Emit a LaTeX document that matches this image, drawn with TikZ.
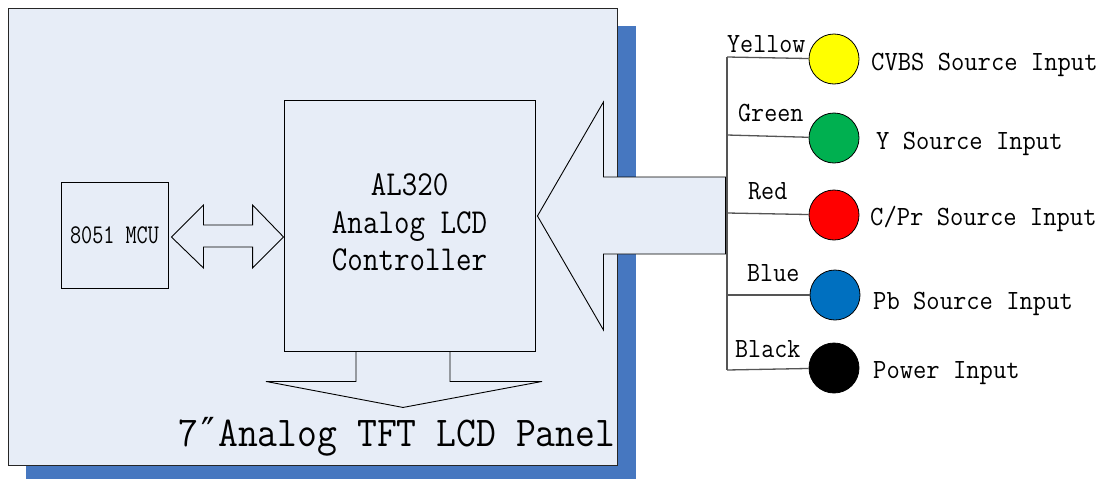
\documentclass[tikz,border=0pt]{standalone}
\usepackage{graphicx}
\usepackage{fontspec}
\newfontfamily\symfont{DejaVu Sans}
\usetikzlibrary{calc}
\definecolor{panelfill}{HTML}{E7EDF7}
\definecolor{shadowblue}{HTML}{4677C0}
\definecolor{wiregray}{HTML}{555555}
\definecolor{cyellow}{HTML}{FFFF00}
\definecolor{cgreen}{HTML}{00B050}
\definecolor{cred}{HTML}{FF0000}
\definecolor{cblue}{HTML}{0070C0}
\newcommand{\hsq}[2]{\scalebox{#1}[1]{#2}}
\tikzset{
  blk/.style={draw=black, line width=0.9pt, fill=panelfill},
  fat/.style={draw=black, line width=0.9pt, fill=panelfill, line join=miter},
  port/.style={circle, draw=black, line width=0.8pt, minimum size=50pt, inner sep=0pt},
  wire/.style={draw=wiregray, line width=1.3pt},
  lbl/.style={inner sep=0pt, anchor=base west, font=\fontsize{27.8}{30}\selectfont\ttfamily},
}
\begin{document}
\begin{tikzpicture}[x=1pt,y=-1pt]
\useasboundingbox (0,0) rectangle (1102,479);
\fill[white] (0,0) rectangle (1102,479);
% shadow and panel
\fill[shadowblue] (26,26) rectangle (636,479);
\node[blk, draw=black!85, minimum width=609pt, minimum height=457pt, anchor=north west, inner sep=0pt] (panel) at (8,8) {};
% MCU
\node[blk, minimum width=107pt, minimum height=106pt, inner sep=0pt, font=\fontsize{27}{29}\selectfont\ttfamily] (mcu) at (114.5,235) {\hsq{0.8}{8051 MCU}};
% AL320
\node[blk, minimum width=251pt, minimum height=251pt, inner sep=0pt, font=\fontsize{35}{37.5}\selectfont\ttfamily] (al) at (409.5,225.5)
  {\hsq{0.86}{\begin{tabular}{@{}c@{}}AL320\\Analog LCD\\Controller\end{tabular}}};
% double arrow between MCU and AL320
\coordinate (dal) at ($(mcu.east)+(3,2)$);
\coordinate (dar) at (al.west |- dal);
\draw[fat] (dal) -- ++(32,-32) -- ++(0,20) -- ($(dar)+(-31,-12)$) -- ++(0,-20) -- (dar)
  -- ++(-31,31) -- ++(0,-21) -- ($(dal)+(32,10)$) -- ++(0,21) -- cycle;
% arrow down to the panel
\filldraw[fat] ($(al.south)+(-53.5,0.6)$) -- ++(0,29.4) -- ++(-90,0) -- ++(137,26) -- ++(139,-26) -- ++(-92,0) -- ++(0,-29.4);
\node[inner sep=0pt, anchor=base west, font=\fontsize{42.5}{45}\selectfont\ttfamily] (pl) at (178,446)
  {\hsq{0.907}{7\makebox[0.525em]{\symfont\fontsize{40}{40}\selectfont ″}Analog TFT LCD Panel}};
% big input arrow
\coordinate (tip) at ($(al.east)+(2,-9.5)$);
\draw[fat] (tip) -- ++(66,-114) -- ++(0,75) -- ++(122,0) -- ++(0,77) -- ++(-122,0) -- ++(0,76) -- cycle;
% bus and ports
\coordinate (b1) at (727,57);
\coordinate (b2) at (727,135);
\coordinate (b3) at (727,213);
\coordinate (b4) at (727,295);
\coordinate (b5) at (727,370);
\node[port, fill=cyellow] (py) at (834,59) {};
\node[port, fill=cgreen] (pg) at (834,138) {};
\node[port, fill=cred] (pr) at (834,215) {};
\node[port, fill=cblue] (pb) at (835,295) {};
\node[port, fill=black] (pk) at (834,368) {};
\draw[wire] (b1) -- (b5);
\draw[wire] (b1) -- (py);
\draw[wire] (b2) -- (pg);
\draw[wire] (b3) -- (pr);
\draw[wire] (b4) -- (pb);
\draw[wire] (b5) -- (pk);
% wire labels
\node[lbl] (ly) at (727,52) {\hsq{0.91}{Yellow}};
\node[lbl] (lg) at (738,121) {\hsq{0.91}{Green}};
\node[lbl] (lr) at (748,199) {\hsq{0.91}{Red}};
\node[lbl] (lb) at (747,281) {\hsq{0.91}{Blue}};
\node[lbl] (lk) at (735,357) {\hsq{0.91}{Black}};
% port labels
\node[lbl] (ty) at (871,70) {\hsq{0.93}{CVBS Source Input}};
\node[lbl] (tg) at (876,149) {\hsq{0.93}{Y Source Input}};
\node[lbl] (tr) at (870,225) {\hsq{0.93}{C/Pr Source Input}};
\node[lbl] (tb) at (873,309) {\hsq{0.93}{Pb Source Input}};
\node[lbl] (tk) at (873,378) {\hsq{0.93}{Power Input}};
\end{tikzpicture}
\end{document}
